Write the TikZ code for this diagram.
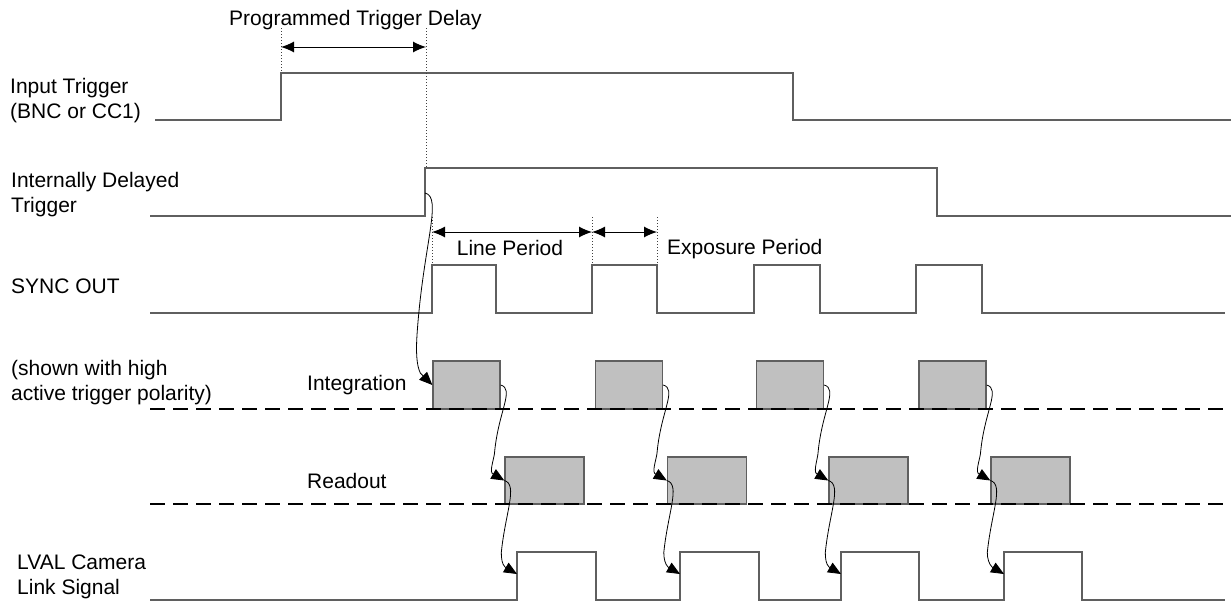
\documentclass[tikz,border=0pt]{standalone}
\usepackage{fontspec}
\setmainfont{Liberation Sans}
\usetikzlibrary{arrows.meta}
\definecolor{siggray}{RGB}{95,95,95}
\definecolor{boxgray}{RGB}{192,192,192}

\begin{document}
\begin{tikzpicture}[x=1pt,y=-1pt,
    every node/.style={font=\fontsize{21}{24.5}\selectfont, inner sep=0pt},
    signal/.style={siggray, line width=1.4pt},
    guide/.style={black!75, line width=0.7pt, dash pattern=on 1.2pt off 1.8pt},
    span/.style={black, line width=1pt, {Latex[length=13pt,width=11pt]}-{Latex[length=13pt,width=11pt]}},
    lane/.style={black, line width=2pt, dash pattern=on 15pt off 8pt},
    phase/.style={draw=siggray, fill=boxgray, line width=1.4pt},
    intbox/.style={phase, minimum width=67pt, minimum height=48pt},
    readbox/.style={phase, minimum width=79pt, minimum height=47pt},
    hop/.style={black, line width=0.8pt, -{Triangle[length=13pt,width=11pt]}},
    lbl/.style={anchor=base west, align=left}]
    \useasboundingbox (0,0) rectangle (1231,605);

    % Labels on the left (two-line labels sit on their last line)
    \node[lbl] (title) at (229,25) {Programmed Trigger Delay};
    \node[lbl] (inlbl) at (10,118) {Input Trigger\\(BNC or CC1)};
    \node[lbl] (idlbl) at (11,212) {Internally Delayed\\Trigger};
    \node[lbl] (synclbl) at (11,293) {SYNC OUT};
    \node[lbl] (notelbl) at (11,400) {(shown with high\\active trigger polarity)};
    \node[lbl] (intlbl) at (307,390) {Integration};
    \node[lbl] (rdlbl) at (307,488) {Readout};
    \node[lbl] (lvlbl) at (17,594) {LVAL Camera\\Link Signal};

    % Input trigger
    \draw[signal] (155,120) -- (281,120) -- (281,73) -- (793,73) -- (793,120) -- (1231,120);

    % Internally delayed trigger
    \draw[signal] (150,216) -- (425,216) -- (425,168) -- (937,168) -- (937,216) -- (1231,216);
    \coordinate (trg) at (425,193);

    % SYNC OUT pulses
    \draw[signal] (150,313) -- (432,313) -- (432,265) -- (496,265) -- (496,313)
        -- (592,313) -- (592,265) -- (657,265) -- (657,313)
        -- (754,313) -- (754,265) -- (820,265) -- (820,313)
        -- (916,313) -- (916,265) -- (982,265) -- (982,313) -- (1225,313);

    % LVAL pulses
    \draw[signal] (150,600) -- (517,600) -- (517,552) -- (596,552) -- (596,600)
        -- (680,600) -- (680,552) -- (759,552) -- (759,600)
        -- (841,600) -- (841,552) -- (919,552) -- (919,600)
        -- (1004,600) -- (1004,552) -- (1082,552) -- (1082,600) -- (1225,600);
    \coordinate (lv1) at (517,574);
    \coordinate (lv2) at (680,574);
    \coordinate (lv3) at (841,574);
    \coordinate (lv4) at (1004,574);

    % Dotted guides
    \draw[guide] (281,28) -- (281,73);
    \draw[guide] (426,28) -- (426,168);
    \draw[guide] (432,217) -- (432,265);
    \draw[guide] (592,217) -- (592,265);
    \draw[guide] (657,217) -- (657,265);

    % Delay and period spans
    \coordinate (pd0) at (281,47);
    \coordinate (pd1) at (426,47);
    \draw[span] (pd0) -- (pd1);
    \coordinate (lp0) at (432,232);
    \coordinate (lp1) at (592,232);
    \coordinate (ep1) at (657,232);
    \draw[span] (lp0) -- (lp1);
    \draw[span] (lp1) -- (ep1);
    \node[anchor=base] (lplbl) at (510,255) {Line Period};
    \node[lbl] (eplbl) at (667,254) {Exposure Period};

    % Integration and readout boxes
    \node[intbox] (int1) at (466.5,385) {};
    \node[intbox] (int2) at (629,385) {};
    \node[intbox] (int3) at (790,385) {};
    \node[intbox] (int4) at (952.5,385) {};
    \node[readbox] (rd1) at (544.5,480.5) {};
    \node[readbox] (rd2) at (707,480.5) {};
    \node[readbox] (rd3) at (868.5,480.5) {};
    \node[readbox] (rd4) at (1030.5,480.5) {};

    % Lane separators
    \draw[lane] (150,409) -- (1231,409);
    \draw[lane] (150,504) -- (1231,504);

    % Trigger starts the first integration (last bit straight, for the tip)
    \draw[hop] (trg) .. controls +(18,4) and +(6,-90) .. ++(-8,142)
        .. controls +(-1,15) and +(-4,-8) .. ([shift={(-12,-12)}]int1.west) -- (int1.west);

    % Integration -> readout -> LVAL
    \draw[hop] (int1.east) .. controls +(14,4) and +(4,-40) .. ++(-6,66)
        .. controls +(0,6) and +(-3,-3) .. ([shift={(-12,-7)}]rd1.west) -- (rd1.west);
    \draw[hop] (int2.east) .. controls +(14,4) and +(4,-40) .. ++(-6,66)
        .. controls +(0,6) and +(-3,-3) .. ([shift={(-12,-7)}]rd2.west) -- (rd2.west);
    \draw[hop] (int3.east) .. controls +(14,4) and +(4,-40) .. ++(-6,66)
        .. controls +(0,6) and +(-3,-3) .. ([shift={(-12,-7)}]rd3.west) -- (rd3.west);
    \draw[hop] (int4.east) .. controls +(14,4) and +(4,-40) .. ++(-6,66)
        .. controls +(0,6) and +(-3,-3) .. ([shift={(-12,-7)}]rd4.west) -- (rd4.west);
    \draw[hop] (rd1.west) .. controls +(14,4) and +(4,-40) .. ++(-3,72)
        .. controls +(0,6) and +(-3,-3) .. ([shift={(-12,-7)}]lv1) -- (lv1);
    \draw[hop] (rd2.west) .. controls +(14,4) and +(4,-40) .. ++(-3,72)
        .. controls +(0,6) and +(-3,-3) .. ([shift={(-12,-7)}]lv2) -- (lv2);
    \draw[hop] (rd3.west) .. controls +(14,4) and +(4,-40) .. ++(-3,72)
        .. controls +(0,6) and +(-3,-3) .. ([shift={(-12,-7)}]lv3) -- (lv3);
    \draw[hop] (rd4.west) .. controls +(14,4) and +(4,-40) .. ++(-3,72)
        .. controls +(0,6) and +(-3,-3) .. ([shift={(-12,-7)}]lv4) -- (lv4);
\end{tikzpicture}
\end{document}
